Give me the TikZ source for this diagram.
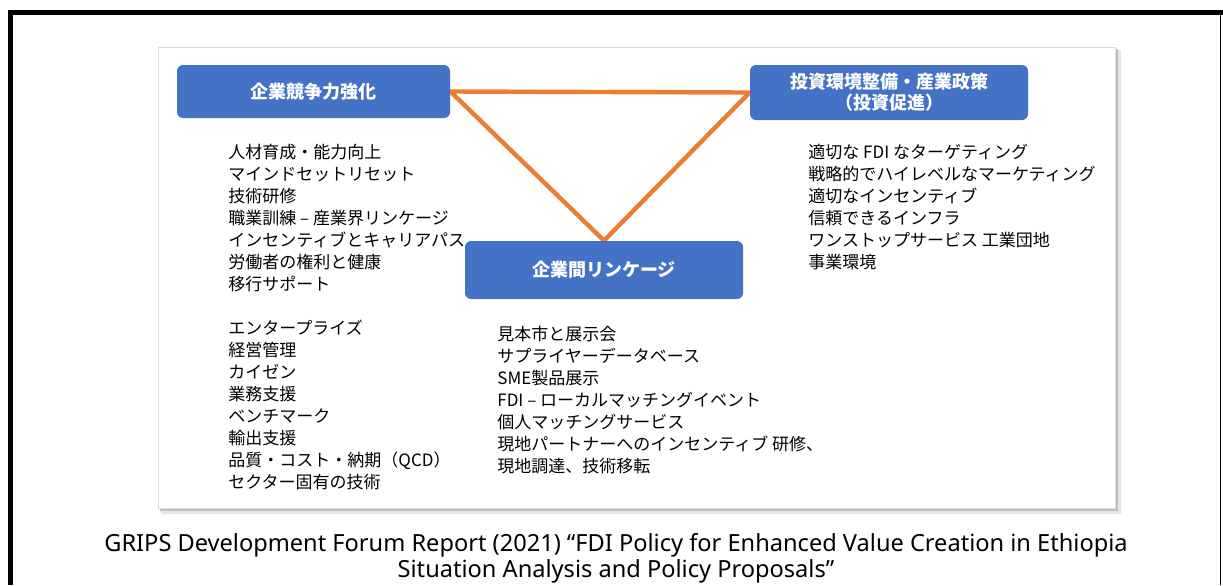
\documentclass[tikz,border=0pt]{standalone}
\usepackage{fontspec}
\setmainfont{Noto Sans}
\newfontfamily\jpfont{Noto Sans CJK JP}
\usetikzlibrary{backgrounds}
\definecolor{boxblue}{HTML}{4472C4}
\definecolor{linkorange}{HTML}{ED7D31}
\tikzset{
  titlebox/.style={fill=boxblue, rounded corners=3pt, text=white, align=center,
    inner sep=0pt, font=\jpfont\bfseries\fontsize{9}{10.5}\selectfont},
  item/.style={anchor=base west, inner sep=0pt, font=\jpfont\fontsize{8.5}{11}\selectfont},
  source/.style={anchor=base, inner sep=0pt, font=\fontsize{11.8}{13.5}\selectfont},
}

\begin{document}
\begin{tikzpicture}[x=0.5pt,y=-0.5pt]
  \useasboundingbox (0,0) rectangle (1223,585);
  % outer frame
  \draw[line width=2.5pt] (10,585) -- (10,12.5) -- (1223,12.5);
  \draw[line width=0.8pt] (1220.5,12.5) -- (1220.5,585);
  % slide with shadow
  \begin{scope}[on background layer]
    \fill[black!10] (161,50) rectangle (1121,514);
    \fill[black!25] (160,49) rectangle (1118,511);
    \filldraw[fill=white,draw=black!15] (158,47) rectangle (1115,508);
  \end{scope}

  \node[titlebox, minimum width=136.5pt, minimum height=26.5pt] (comp) at (313.5,91.5) {企業競争力強化};
  \node[titlebox, minimum width=139pt, minimum height=27.5pt] (inv) at (889,92.5) {投資環境整備・産業政策\\（投資促進）};
  \node[titlebox, minimum width=139pt, minimum height=29pt] (link) at (604,270) {企業間リンケージ};

  \begin{scope}[on background layer]
    \draw[linkorange, line width=2.2pt] (comp.east) -- (inv.west) -- (link.north) -- cycle;
  \end{scope}

  \foreach \t [count=\i from 0] in {人材育成・能力向上, マインドセットリセット, 技術研修,
      職業訓練 – 産業界リンケージ, インセンティブとキャリアパス, 労働者の権利と健康, 移行サポート}
    \node[item] (hr\i) at (228,158.5+22*\i) {\t};
  \foreach \t [count=\i from 0] in {エンタープライズ, 経営管理, カイゼン, 業務支援, ベンチマーク,
      輸出支援, 品質・コスト・納期（QCD）, セクター固有の技術}
    \node[item] (ent\i) at (228,334.5+22*\i) {\t};
  \foreach \t [count=\i from 0] in {見本市と展示会, サプライヤーデータベース, SME製品展示,
      FDI – ローカルマッチングイベント, 個人マッチングサービス,
      現地パートナーへのインセンティブ 研修、, 現地調達、技術移転}
    \node[item] (lk\i) at (497,340.5+22*\i) {\t};
  \foreach \t [count=\i from 0] in {適切な FDI なターゲティング, 戦略的でハイレベルなマーケティング,
      適切なインセンティブ, 信頼できるインフラ, ワンストップサービス 工業団地, 事業環境}
    \node[item] (iv\i) at (808,158.5+22*\i) {\t};

  \node[source] (src1) at (616,551) {GRIPS Development Forum Report (2021) “FDI Policy for Enhanced Value Creation in Ethiopia};
  \node[source] (src2) at (616,577) {Situation Analysis and Policy Proposals”};
\end{tikzpicture}
\end{document}
